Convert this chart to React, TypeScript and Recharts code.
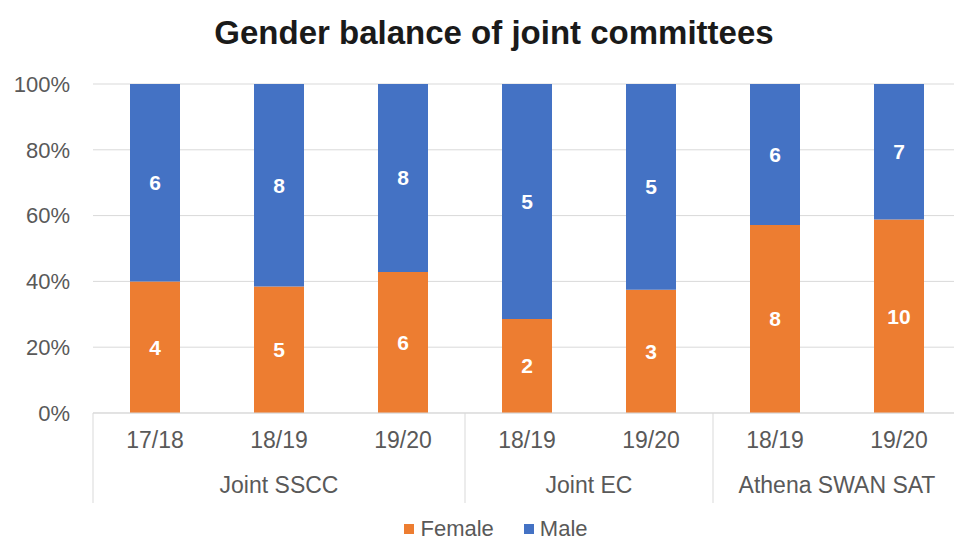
import { Bar, BarChart, CartesianGrid, LabelList, XAxis, YAxis } from 'recharts'

const YEARS = ['17/18', '18/19', '19/20', '18/19', '19/20', '18/19', '19/20']
const GROUPS = ['Joint SSCC', 'Joint SSCC', 'Joint SSCC', 'Joint EC', 'Joint EC', 'Athena SWAN SAT', 'Athena SWAN SAT']
const FEMALE = [4, 5, 6, 2, 3, 8, 10]
const MALE = [6, 8, 8, 5, 5, 6, 7]
const Y_TICKS = [0, 0.2, 0.4, 0.6, 0.8, 1]

const data = YEARS.map((year, i) => ({ year, group: GROUPS[i], female: FEMALE[i], male: MALE[i] }))

const ORANGE = '#ED7D31'
const BLUE = '#4472C4'
const TEXT = '#595959'
const GRID = '#d9d9d9'
const FONT = '"Liberation Sans", Arial, sans-serif'

const CHART_W = 961
const CHART_H = 543
const MARGIN = { top: 84, right: 0, left: 0, bottom: 40 }
const Y_AXIS_W = 93
const YEAR_AXIS_H = 40
const GROUP_AXIS_H = 50
const BAND = (CHART_W - Y_AXIS_W - MARGIN.right) / data.length

// group label centred under its bars, dividers between groups
function GroupTick(props: any) {
  const { x, y, index } = props
  const group = GROUPS[index]
  const isFirst = index === 0 || GROUPS[index - 1] !== group
  const isLast = index === GROUPS.length - 1
  if (!isFirst && !isLast) return null
  let count = 0
  for (let i = index; i < GROUPS.length && GROUPS[i] === group; i++) count++
  const top = y - YEAR_AXIS_H
  return (
    <g>
      {isFirst && (
        <>
          <line x1={x - BAND / 2} x2={x - BAND / 2} y1={top} y2={y + 50} stroke={GRID} />
          <text
            x={x + ((count - 1) / 2) * BAND}
            y={y + 40}
            textAnchor="middle"
            fill={TEXT}
            fontSize={23}
            fontFamily={FONT}
          >
            {group}
          </text>
        </>
      )}
      {isLast && <line x1={x + BAND / 2} x2={x + BAND / 2} y1={top} y2={y + 50} stroke={GRID} />}
    </g>
  )
}

export default function App() {
  return (
    <div style={{ position: 'fixed', top: 0, left: 0, width: 954, height: 543, overflow: 'hidden', background: '#fff' }}>
      <div
        style={{
          position: 'absolute',
          top: 14,
          left: 0,
          width: 988,
          textAlign: 'center',
          fontFamily: FONT,
          fontWeight: 'bold',
          fontSize: 33,
          color: '#1a1a1a',
        }}
      >
        Gender balance of joint committees
      </div>
      <BarChart width={CHART_W} height={CHART_H} data={data} stackOffset="expand" margin={MARGIN} barSize={50}>
        <CartesianGrid vertical={false} stroke={GRID} />
        <YAxis
          width={Y_AXIS_W}
          domain={[0, 1]}
          ticks={Y_TICKS}
          tickFormatter={(v: number) => `${Math.round(v * 100)}%`}
          axisLine={false}
          tickLine={false}
          tickSize={0}
          tickMargin={23}
          tick={{ fill: TEXT, fontSize: 22, fontFamily: FONT }}
        />
        <XAxis
          xAxisId={0}
          dataKey="year"
          height={YEAR_AXIS_H}
          axisLine={{ stroke: GRID }}
          tickLine={false}
          tickSize={0}
          tickMargin={19}
          interval={0}
          tick={{ fill: TEXT, fontSize: 23, fontFamily: FONT }}
        />
        <XAxis
          xAxisId={1}
          dataKey="group"
          height={GROUP_AXIS_H}
          axisLine={false}
          tickLine={false}
          tickSize={0}
          tickMargin={0}
          interval={0}
          allowDuplicatedCategory
          tick={<GroupTick />}
        />
        <Bar dataKey="female" name="Female" stackId="a" fill={ORANGE} isAnimationActive={false}>
          <LabelList dataKey="female" position="center" fill="#fff" fontSize={21} fontWeight="bold" fontFamily={FONT} />
        </Bar>
        <Bar dataKey="male" name="Male" stackId="a" fill={BLUE} isAnimationActive={false}>
          <LabelList dataKey="male" position="center" fill="#fff" fontSize={21} fontWeight="bold" fontFamily={FONT} />
        </Bar>
      </BarChart>
      <div
        style={{
          position: 'absolute',
          top: 518,
          left: 0,
          width: 992,
          display: 'flex',
          justifyContent: 'center',
          gap: 30,
          fontFamily: FONT,
          fontSize: 22,
          lineHeight: '22px',
          color: TEXT,
        }}
      >
        {[
          { name: 'Female', color: ORANGE },
          { name: 'Male', color: BLUE },
        ].map((s) => (
          <span key={s.name} style={{ display: 'flex', alignItems: 'center', gap: 6 }}>
            <span style={{ width: 10, height: 10, background: s.color, display: 'inline-block' }} />
            {s.name}
          </span>
        ))}
      </div>
    </div>
  )
}
